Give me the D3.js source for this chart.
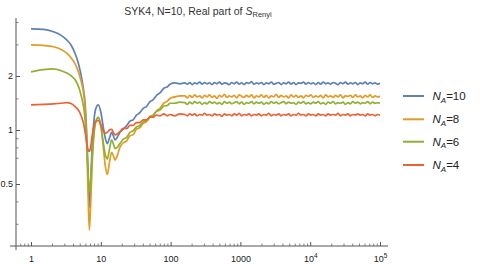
<!DOCTYPE html>
<html>
<head>
<meta charset="utf-8">
<script src="https://cdn.jsdelivr.net/npm/d3@7"></script>
<style>
  body { margin: 0; background: #fff; }
  svg { display: block; font-family: "Liberation Sans", Arial, sans-serif; }
</style>
</head>
<body>
<div id="chart"></div>
<script>
// time grid (early + rising part, then plateau)
var times = [1, 1.5, 2.1, 2.7, 3.25, 3.8, 4.3, 4.7, 5.05, 5.35, 5.65, 5.95, 6.25, 6.55, 6.85, 7.15, 7.5, 7.9, 8.4, 9.2,
  10, 10.8, 11.6, 12.4, 13.3, 14.3, 15.1, 16, 17.2, 18.8, 21, 23.5, 26.2, 29, 32.5, 36.3, 40.5, 45, 50.7, 56,
  63, 70.5, 80, 90, 98, 115, 136,
  160, 174, 188, 204, 221, 240, 261, 283, 307, 333,
  361, 392, 425, 461, 500, 543, 589, 639, 693, 752,
  816, 885, 960, 1042, 1130, 1226, 1330, 1443, 1566, 1699,
  1843, 2000, 2170, 2354, 2554, 2771, 3006, 3262, 3539, 3839,
  4165, 4519, 4903, 5319, 5771, 6261, 6793, 7370, 7996, 8675,
  9412, 10211, 11078, 12019, 13040, 14147, 15349, 16652, 18066, 19601,
  21265, 23071, 25031, 27156, 29463, 31965, 34680, 37625, 40821, 44287,
  48049, 52130, 56557, 61360, 66571, 72225, 78358, 85013, 92233, 100000];

var na10 = [3.66, 3.64, 3.53, 3.37, 3.18, 2.95, 2.66, 2.4, 2.15, 1.92, 1.68, 1.42, 1.0, 0.6, 0.37, 0.5, 0.8, 1.08, 1.3, 1.38,
  1.26, 1.05, 0.9, 0.84, 0.9, 0.97, 0.93, 0.88, 0.91, 0.97, 1.01, 1.06, 1.12, 1.14, 1.21, 1.25, 1.32, 1.35, 1.44, 1.47,
  1.56, 1.61, 1.71, 1.74, 1.8, 1.83, 1.81,
  1.83, 1.80, 1.84, 1.79, 1.83, 1.81, 1.85, 1.80, 1.84, 1.81,
  1.83, 1.79, 1.84, 1.81, 1.85, 1.80, 1.83, 1.82, 1.79, 1.84,
  1.81, 1.85, 1.80, 1.83, 1.79, 1.84, 1.82, 1.86, 1.80, 1.83,
  1.81, 1.84, 1.79, 1.83, 1.81, 1.85, 1.80, 1.82, 1.84, 1.79,
  1.83, 1.81, 1.85, 1.80, 1.84, 1.79, 1.83, 1.82, 1.85, 1.80,
  1.84, 1.81, 1.83, 1.79, 1.84, 1.80, 1.85, 1.81, 1.83, 1.80,
  1.84, 1.82, 1.79, 1.84, 1.81, 1.85, 1.80, 1.83, 1.81, 1.84,
  1.79, 1.83, 1.81, 1.85, 1.80, 1.84, 1.81, 1.83, 1.80, 1.82];

var na8 = [2.98, 2.96, 2.91, 2.81, 2.68, 2.51, 2.33, 2.15, 1.97, 1.8, 1.61, 1.33, 0.9, 0.46, 0.277, 0.38, 0.62, 0.9, 1.1, 1.18,
  1.06, 0.82, 0.63, 0.565, 0.66, 0.75, 0.72, 0.68, 0.72, 0.8, 0.85, 0.87, 0.93, 0.94, 1.01, 1.03, 1.09, 1.11, 1.18, 1.2,
  1.28, 1.32, 1.41, 1.45, 1.5, 1.53, 1.55,
  1.55, 1.51, 1.56, 1.52, 1.57, 1.53, 1.55, 1.51, 1.56, 1.53,
  1.57, 1.52, 1.55, 1.50, 1.56, 1.53, 1.58, 1.52, 1.55, 1.53,
  1.56, 1.51, 1.57, 1.54, 1.52, 1.56, 1.53, 1.57, 1.51, 1.55,
  1.53, 1.57, 1.52, 1.56, 1.51, 1.55, 1.53, 1.58, 1.52, 1.56,
  1.53, 1.55, 1.51, 1.57, 1.53, 1.56, 1.52, 1.55, 1.51, 1.56,
  1.54, 1.57, 1.52, 1.55, 1.53, 1.56, 1.51, 1.57, 1.53, 1.55,
  1.52, 1.56, 1.53, 1.57, 1.51, 1.55, 1.54, 1.56, 1.52, 1.57,
  1.53, 1.55, 1.51, 1.56, 1.53, 1.57, 1.52, 1.55, 1.53, 1.54];

var na6 = [2.11, 2.17, 2.19, 2.14, 2.08, 2.0, 1.9, 1.78, 1.64, 1.5, 1.35, 1.15, 0.88, 0.6, 0.45, 0.52, 0.7, 0.92, 1.1, 1.17,
  1.06, 0.86, 0.73, 0.69, 0.78, 0.88, 0.84, 0.79, 0.8, 0.84, 0.89, 0.91, 0.97, 0.99, 1.04, 1.06, 1.11, 1.13, 1.19, 1.21,
  1.27, 1.29, 1.36, 1.37, 1.41, 1.41, 1.43,
  1.42, 1.39, 1.43, 1.40, 1.44, 1.41, 1.43, 1.39, 1.42, 1.40,
  1.44, 1.41, 1.43, 1.40, 1.42, 1.39, 1.44, 1.41, 1.43, 1.40,
  1.42, 1.44, 1.40, 1.43, 1.39, 1.42, 1.41, 1.44, 1.40, 1.43,
  1.41, 1.43, 1.39, 1.42, 1.40, 1.44, 1.41, 1.43, 1.40, 1.42,
  1.44, 1.40, 1.43, 1.41, 1.42, 1.39, 1.43, 1.41, 1.44, 1.40,
  1.42, 1.40, 1.43, 1.41, 1.44, 1.40, 1.42, 1.39, 1.43, 1.41,
  1.44, 1.40, 1.42, 1.41, 1.43, 1.39, 1.42, 1.40, 1.44, 1.41,
  1.43, 1.40, 1.42, 1.41, 1.44, 1.40, 1.43, 1.41, 1.42, 1.41];

var na4 = [1.38, 1.39, 1.4, 1.41, 1.42, 1.4, 1.35, 1.3, 1.24, 1.17, 1.09, 0.98, 0.86, 0.78, 0.76, 0.8, 0.92, 1.04, 1.11, 1.13,
  1.07, 0.99, 0.96, 0.97, 1.0, 1.01, 0.97, 0.94, 0.95, 0.98, 1.02, 1.02, 1.06, 1.06, 1.1, 1.1, 1.14, 1.14, 1.18, 1.18,
  1.21, 1.2, 1.23, 1.2, 1.22, 1.2, 1.23,
  1.22, 1.20, 1.23, 1.21, 1.23, 1.20, 1.22, 1.21, 1.24, 1.21,
  1.22, 1.20, 1.23, 1.21, 1.22, 1.19, 1.23, 1.21, 1.22, 1.20,
  1.23, 1.21, 1.24, 1.20, 1.22, 1.21, 1.23, 1.20, 1.22, 1.21,
  1.23, 1.20, 1.22, 1.21, 1.24, 1.20, 1.22, 1.21, 1.23, 1.20,
  1.22, 1.21, 1.23, 1.20, 1.22, 1.21, 1.24, 1.21, 1.22, 1.20,
  1.23, 1.21, 1.22, 1.20, 1.23, 1.21, 1.22, 1.20, 1.23, 1.21,
  1.22, 1.21, 1.24, 1.20, 1.22, 1.21, 1.23, 1.20, 1.22, 1.21,
  1.23, 1.21, 1.22, 1.20, 1.23, 1.21, 1.22, 1.20, 1.22, 1.21];

var seriesNames = ["10", "8", "6", "4"];
var seriesValues = [na10, na8, na6, na4];
var colors = ["#5E81B5", "#E19C24", "#8FB032", "#EB6235"];

var xMajor = [1, 10, 100, 1000, 1e4, 1e5];
var xLabels = ["1", "10", "100", "1000", "10^4", "10^5"];
var yMajor = [0.5, 1, 2];
var yLabels = ["0.5", "1", "2"];
var yMinor = [0.3, 0.4, 0.7, 0.8, 0.9, 1.5, 3, 4];

var W = 481, H = 264;
var svg = d3.select("#chart").append("svg").attr("width", W).attr("height", H);

var x = d3.scaleLog().domain([1, 1e5]).range([31, 380]);
var y = d3.scaleLog().domain([0.5, 2]).range([184, 76]);

var axisColor = "#555";

// minor x ticks
var xMinor = [];
[0.1, 1, 10, 100, 1000, 10000].forEach(function(d) {
  for (var k = 2; k <= 9; k++) { var v = d * k; if (v > 0.62 && v < 1.2e5) xMinor.push(v); }
});

svg.append("g").attr("transform", "translate(0,246)")
  .call(d3.axisBottom(x).tickValues(xMinor).tickSize(-2.5).tickFormat(""))
  .call(function(g) { g.select(".domain").remove(); g.selectAll("line").attr("stroke", "#888"); });

var xa = svg.append("g").attr("transform", "translate(0,246)")
  .call(d3.axisBottom(x).tickValues(xMajor).tickSize(-4).tickPadding(10)
    .tickFormat(function(d, i) { return xLabels[i]; }));
xa.select(".domain").remove();
xa.selectAll("line").attr("stroke", axisColor);
xa.selectAll("text").attr("fill", "#222").style("font-size", "9px")
  .each(function(d, i) {
    var lab = xLabels[i];
    if (lab.indexOf("^") > 0) {
      var p = lab.split("^");
      var t = d3.select(this).text(null);
      t.append("tspan").text(p[0]);
      t.append("tspan").attr("dy", "-4").style("font-size", "6.5px").text(p[1]);
    }
  });

svg.append("g").attr("transform", "translate(16,0)")
  .call(d3.axisLeft(y).tickValues(yMinor).tickSize(-2.5).tickFormat(""))
  .call(function(g) { g.select(".domain").remove(); g.selectAll("line").attr("stroke", "#888"); });

var ya = svg.append("g").attr("transform", "translate(16,0)")
  .call(d3.axisLeft(y).tickValues(yMajor).tickSize(-4).tickPadding(3)
    .tickFormat(function(d, i) { return yLabels[i]; }));
ya.select(".domain").remove();
ya.selectAll("line").attr("stroke", axisColor);
ya.selectAll("text").attr("fill", "#222").style("font-size", "9px");

// axis lines
svg.append("line").attr("x1", 10).attr("x2", 388).attr("y1", 246).attr("y2", 246)
  .attr("stroke", axisColor).attr("stroke-width", 1);
svg.append("line").attr("x1", 16).attr("x2", 16).attr("y1", 18).attr("y2", 250)
  .attr("stroke", axisColor).attr("stroke-width", 1);

// series
var line = d3.line()
  .x(function(d) { return x(d[0]); })
  .y(function(d) { return y(d[1]); })
  .curve(d3.curveMonotoneX);

seriesValues.forEach(function(vals, i) {
  var pts = times.map(function(t, j) { return [t, vals[j]]; });
  svg.append("path").datum(pts)
    .attr("d", line)
    .attr("fill", "none")
    .attr("stroke", colors[i])
    .attr("stroke-width", 1.7)
    .attr("stroke-linejoin", "round");
});

// title
var title = svg.append("text").attr("x", 198).attr("y", 14.5)
  .attr("text-anchor", "middle").attr("fill", "#333").style("font-size", "10.5px");
title.append("tspan").text("SYK4, N=10, Real part of ");
title.append("tspan").style("font-style", "italic").text("S");
title.append("tspan").attr("dy", 2.5).style("font-size", "7.5px").text("Renyi");

// legend
var legendY = [96, 119.3, 141.7, 165];
seriesNames.forEach(function(n, i) {
  var g = svg.append("g").attr("transform", "translate(0," + legendY[i] + ")");
  g.append("line").attr("x1", 403).attr("x2", 424).attr("y1", 0).attr("y2", 0)
    .attr("stroke", colors[i]).attr("stroke-width", 2);
  var t = g.append("text").attr("x", 432.5).attr("y", 4).attr("fill", "#222").style("font-size", "11.5px");
  t.append("tspan").style("font-style", "italic").text("N");
  t.append("tspan").attr("dy", 2.5).style("font-style", "italic").style("font-size", "8px").text("A");
  t.append("tspan").attr("dy", -2.5).text("=" + n);
});
</script>
</body>
</html>
